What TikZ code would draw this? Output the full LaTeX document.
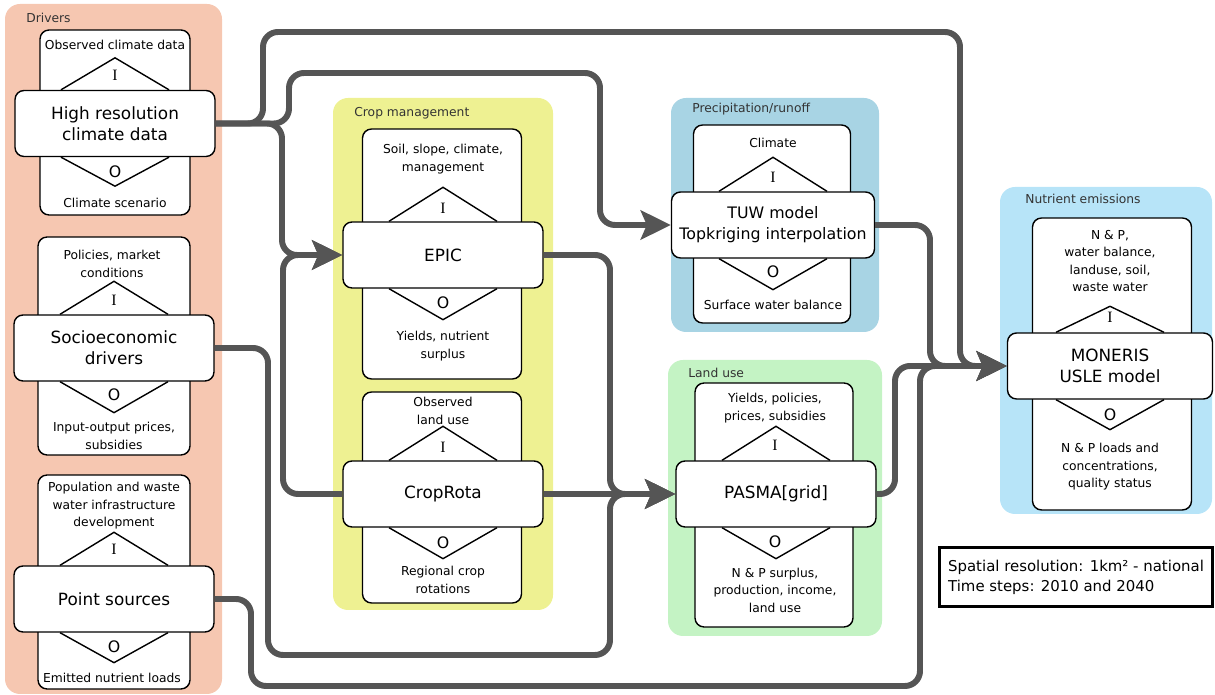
\documentclass[tikz,border=0pt]{standalone}
\usepackage{fontspec}
\setmainfont{DejaVu Sans}
\newfontfamily\letterfont{Liberation Serif}
\usepackage{tikz}
\usetikzlibrary{positioning}
\usetikzlibrary{arrows.meta, calc}

\definecolor{driverfill}{RGB}{246,199,177}
\definecolor{cropfill}{RGB}{238,241,146}
\definecolor{runofffill}{RGB}{168,212,228}
\definecolor{landfill}{RGB}{196,243,196}
\definecolor{emisfill}{RGB}{183,228,248}
\definecolor{flowgray}{RGB}{85,85,85}

\tikzset{
  grp/.style={fill=#1, rounded corners=0.3cm},
  grplabel/.style={anchor=west, font=\fontsize{7}{8}\selectfont, text=black!80, inner sep=0pt},
  iobox/.style={draw, fill=white, line width=0.8pt, rounded corners=0.18cm},
  model/.style={draw, fill=white, line width=0.8pt, rounded corners=0.18cm,
    minimum width=4cm, minimum height=1.32cm, align=center, font=\fontsize{9.6}{12}\selectfont},
  iotext/.style={font=\fontsize{7}{10}\selectfont, align=center, inner sep=0pt},
  ioletter/.style={font=\fontsize{9}{10}\selectfont, inner sep=0pt},
  iodia/.style={line width=0.8pt},
  flow/.style={draw=flowgray, line width=3.4pt, rounded corners=0.3cm,
    -{Stealth[length=0.6cm, width=0.58cm, inset=0.12cm]}},
}

\begin{document}
\begin{tikzpicture}[x=0.02cm, y=-0.02cm]
    \useasboundingbox (0,0) rectangle (1215,695);

    % groups
    \fill[grp=driverfill] (5,4) rectangle (222,694);
    \fill[grp=cropfill] (333,98) rectangle (553,610);
    \fill[grp=runofffill] (671,98) rectangle (879,332);
    \fill[grp=landfill] (668,360) rectangle (882,636);
    \fill[grp=emisfill] (1000,187) rectangle (1212,514);

    \node[grplabel] (drvlbl) at (26,18) {Drivers};
    \node[grplabel] (croplbl) at (354,113) {Crop management};
    \node[grplabel] (runlbl) at (692,109) {Precipitation/runoff};
    \node[grplabel] (landlbl) at (688,373) {Land use};
    \node[grplabel] (emislbl) at (1025,199) {Nutrient emissions};

    % input/output boxes
    \node[iobox, minimum width=3cm, minimum height=3.7cm] (climio) at (115,122.5) {};
    \node[iobox, minimum width=3.04cm, minimum height=4.36cm] (socioio) at (114,346) {};
    \node[iobox, minimum width=3.04cm, minimum height=4.28cm] (pointio) at (114,582) {};
    \node[iobox, minimum width=3.18cm, minimum height=5cm] (epicio) at (442,254) {};
    \node[iobox, minimum width=3.18cm, minimum height=4.22cm] (cropio) at (442,497.5) {};
    \node[iobox, minimum width=3.14cm, minimum height=3.96cm] (tuwio) at (772,224) {};
    \node[iobox, minimum width=3.16cm, minimum height=4.88cm] (pasmaio) at (774,505) {};
    \node[iobox, minimum width=3.18cm, minimum height=5.84cm] (monio) at (1112,364) {};

    % models
    \node[model] (clim) at (115,123.5) {High resolution\\climate data};
    \node[model] (socio) at (114,348) {Socioeconomic\\drivers};
    \node[model] (point) at (114,599) {Point sources};
    \node[model] (epic) at (443,255) {EPIC};
    \node[model] (crop) at (443,494) {CropRota};
    \node[model, minimum width=4.06cm, font=\fontsize{9}{12}\selectfont] (tuw) at (773,225) {TUW model\\Topkriging interpolation};
    \node[model] (pasma) at (776,494) {PASMA[grid]};
    \node[model, minimum width=4.1cm] (moneris) at (1110,366) {MONERIS\\USLE model};

    % diamonds
    \draw[iodia] ([xshift=-1.08cm]clim.north) -- ++(1.08cm,0.64cm) -- ([xshift=1.08cm]clim.north) ([xshift=-1.08cm]clim.south) -- ++(1.08cm,-0.58cm) -- ([xshift=1.08cm]clim.south);
    \draw[iodia] ([xshift=-1.08cm]socio.north) -- ++(1.08cm,0.66cm) -- ([xshift=1.08cm]socio.north) ([xshift=-1.08cm]socio.south) -- ++(1.08cm,-0.62cm) -- ([xshift=1.08cm]socio.south);
    \draw[iodia] ([xshift=-1.08cm]point.north) -- ++(1.08cm,0.66cm) -- ([xshift=1.08cm]point.north) ([xshift=-1.08cm]point.south) -- ++(1.08cm,-0.6cm) -- ([xshift=1.08cm]point.south);
    \draw[iodia] ([xshift=-1.08cm]epic.north) -- ++(1.08cm,0.68cm) -- ([xshift=1.08cm]epic.north) ([xshift=-1.08cm]epic.south) -- ++(1.08cm,-0.62cm) -- ([xshift=1.08cm]epic.south);
    \draw[iodia] ([xshift=-1.08cm]crop.north) -- ++(1.08cm,0.68cm) -- ([xshift=1.08cm]crop.north) ([xshift=-1.08cm]crop.south) -- ++(1.08cm,-0.62cm) -- ([xshift=1.08cm]crop.south);
    \draw[iodia] ([xshift=-1.08cm]tuw.north) -- ++(1.08cm,0.68cm) -- ([xshift=1.08cm]tuw.north) ([xshift=-1.08cm]tuw.south) -- ++(1.08cm,-0.62cm) -- ([xshift=1.08cm]tuw.south);
    \draw[iodia] ([xshift=-1.08cm]pasma.north) -- ++(1.08cm,0.68cm) -- ([xshift=1.08cm]pasma.north) ([xshift=-1.08cm]pasma.south) -- ++(1.08cm,-0.62cm) -- ([xshift=1.08cm]pasma.south);
    \draw[iodia] ([xshift=-1.08cm]moneris.north) -- ++(1.08cm,0.52cm) -- ([xshift=1.08cm]moneris.north) ([xshift=-1.08cm]moneris.south) -- ++(1.08cm,-0.6cm) -- ([xshift=1.08cm]moneris.south);

    % I and O
    \node[ioletter] (climi) at (115,75) {\letterfont I};
    \node[ioletter] (climo) at (115,172) {O};
    \node[ioletter] (socioi) at (114,300) {\letterfont I};
    \node[ioletter] (socioo) at (114,395) {O};
    \node[ioletter] (pointi) at (114,549) {\letterfont I};
    \node[ioletter] (pointo) at (114,647) {O};
    \node[ioletter] (epici) at (443,208) {\letterfont I};
    \node[ioletter] (epico) at (443,303) {O};
    \node[ioletter] (cropi) at (443,447) {\letterfont I};
    \node[ioletter] (cropo) at (443,543) {O};
    \node[ioletter] (tuwi) at (773,177) {\letterfont I};
    \node[ioletter] (tuwo) at (773,272) {O};
    \node[ioletter] (pasmai) at (775,445) {\letterfont I};
    \node[ioletter] (pasmao) at (775,542) {O};
    \node[ioletter] (moni) at (1110,317) {\letterfont I};
    \node[ioletter] (mono) at (1110,415) {O};

    % inputs and outputs
    \node[iotext] (climin) at (115,45) {Observed climate data};
    \node[iotext] (climout) at (115,203) {Climate scenario};
    \node[iotext] (socioin) at (112,264) {Policies, market\\conditions};
    \node[iotext] (socioout) at (114,436) {Input-output prices,\\subsidies};
    \node[iotext] (pointin) at (114,506) {Population and waste\\water infrastructure\\development};
    \node[iotext] (pointout) at (112,678) {Emitted nutrient loads};
    \node[iotext] (epicin) at (443,159) {Soil, slope, climate,\\management};
    \node[iotext] (epicout) at (443,346) {Yields, nutrient\\surplus};
    \node[iotext] (cropin) at (443,411) {Observed\\land use};
    \node[iotext] (cropout) at (443,580) {Regional crop\\rotations};
    \node[iotext] (tuwin) at (773,143) {Climate};
    \node[iotext] (tuwout) at (773,305) {Surface water balance};
    \node[iotext] (pasmain) at (775,408) {Yields, policies,\\prices, subsidies};
    \node[iotext] (pasmaout) at (775,590) {N \& P surplus,\\production, income,\\land use};
    \node[iotext] (monin) at (1110,261) {N \& P,\\water balance,\\landuse, soil,\\waste water};
    \node[iotext] (monout) at (1110,467) {N \& P loads and\\concentrations,\\quality status};

    % flows
    \draw[flow] (clim.east) -| (263,32) -| (960,366) -- (moneris.west);
    \draw[flow] (clim.east) -| (289,73) -| (600,225) -- (tuw.west);
    \draw[flow] (clim.east) -| (282,255) -- (epic.west);
    \draw[flow] (crop.west) -| (283,255) -- (epic.west);
    \draw[flow] (epic.east) -| (610,494) -- (pasma.west);
    \draw[flow] (crop.east) -- (pasma.west);
    \draw[flow] (socio.east) -| (268,655) -| (610,494) -- (pasma.west);
    \draw[flow] (point.east) -| (251,686) -| (920,366) -- (moneris.west);
    \draw[flow] (pasma.east) -| (895,366) -- (moneris.west);
    \draw[flow] (tuw.east) -| (930,366) -- (moneris.west);

    % resolution note
    \node[draw, line width=1.2pt, minimum width=5.46cm, minimum height=1.18cm, align=left,
      font=\fontsize{8.5}{11.5}\selectfont] (note) at (1076,577)
      {Spatial resolution: 1km² - national\\Time steps: 2010 and 2040};
\end{tikzpicture}
\end{document}
